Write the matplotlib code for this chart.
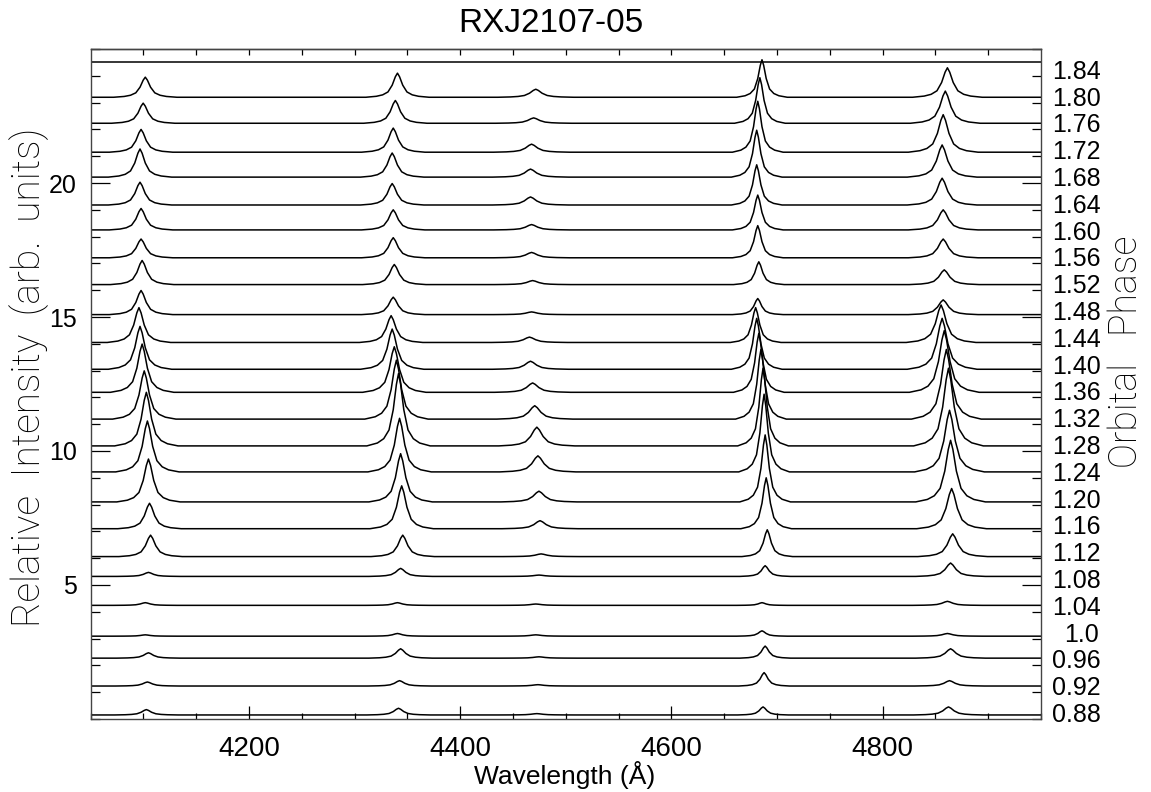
import numpy as np
import matplotlib.pyplot as plt
from matplotlib.ticker import MultipleLocator

plt.rcParams['font.family'] = ['Liberation Sans', 'DejaVu Sans']

# orbital phase labels, bottom spectrum first
phases = ["0.88", "0.92", "0.96", "1.0", "1.04", "1.08", "1.12", "1.16", "1.20",
          "1.24", "1.28", "1.32", "1.36", "1.40", "1.44", "1.48", "1.52", "1.56",
          "1.60", "1.64", "1.68", "1.72", "1.76", "1.80", "1.84"]

# continuum level of each spectrum (offset included)
baseline = [0.15, 1.23, 2.27, 3.09, 4.24, 5.32, 6.06, 7.10, 8.10, 9.22, 10.19,
            11.19, 12.19, 13.05, 14.05, 15.09, 16.21, 17.21, 18.25, 19.18, 20.22,
            21.15, 22.23, 23.20, 24.50]

# line shift of each spectrum (Angstrom)
shift = [1, 2, 3, 0, 0, 3, 5, 4, 3, 2, 1, -1, -3, -5, -6, -4, -3, -4, -4, -5,
         -5, -4, -2, 0, 0]

# rest wavelengths and relative widths of the emission lines
line_names = ["Hdelta", "Hgamma", "HeI4471", "HeII4686", "Hbeta"]
line_rest = [4101.7, 4340.5, 4471.5, 4685.7, 4861.3]
line_width = [1.0, 1.0, 1.2, 0.8, 1.1]

# peak heights above continuum, one row per line, one column per spectrum
peak_hd = [0.2, 0.15, 0.2, 0.05, 0.1, 0.15, 0.8, 0.95, 1.6, 1.9, 2.0, 1.8, 1.8,
           1.6, 1.3, 0.9, 0.9, 0.7, 0.8, 0.85, 1.05, 0.85, 0.75, 0.75, 0.0]
peak_hg = [0.25, 0.2, 0.35, 0.1, 0.1, 0.3, 0.8, 1.6, 1.8, 2.0, 2.7, 2.2, 1.7,
           1.5, 1.0, 0.65, 0.75, 0.75, 0.75, 0.8, 0.9, 0.9, 0.85, 0.9, 0.0]
peak_hei = [0.05, 0.05, 0.05, 0.05, 0.05, 0.05, 0.1, 0.3, 0.4, 0.6, 0.7, 0.5,
            0.35, 0.3, 0.2, 0.1, 0.15, 0.2, 0.2, 0.3, 0.3, 0.3, 0.2, 0.3, 0.0]
peak_heii = [0.3, 0.5, 0.45, 0.2, 0.1, 0.4, 1.0, 1.9, 2.5, 2.9, 2.9, 2.6, 2.2,
             1.9, 1.3, 0.6, 0.85, 1.2, 1.3, 1.5, 1.75, 1.9, 1.7, 1.4, 0.0]
peak_hb = [0.3, 0.2, 0.35, 0.1, 0.15, 0.5, 0.85, 1.5, 2.3, 2.3, 2.9, 2.6, 2.3,
           1.9, 1.4, 0.55, 0.55, 0.7, 0.75, 1.0, 1.2, 1.4, 1.2, 1.1, 0.0]
peaks = [peak_hd, peak_hg, peak_hei, peak_heii, peak_hb]

# shape of a single emission line (Angstrom, fraction of peak)
profile_dx = [-30, -20, -14, -9, -5, -2, 0, 2, 5, 9, 14, 20, 30]
profile_y = [0, 0.04, 0.1, 0.22, 0.5, 0.85, 1.0, 0.85, 0.5, 0.22, 0.1, 0.04, 0]

wl_min, wl_max = 4050, 4950


def build_spectrum(i):
    wl = [wl_min]
    fl = [baseline[i]]
    for k in range(len(line_rest)):
        c = line_rest[k] + shift[i]
        for dx, py in zip(profile_dx, profile_y):
            wl.append(c + dx * line_width[k])
            fl.append(baseline[i] + peaks[k][i] * py)
    wl.append(wl_max)
    fl.append(baseline[i])
    return np.array(wl), np.array(fl)


def main():
    fig = plt.figure(figsize=(11.51, 7.92), dpi=100)
    ax = fig.add_axes([0.0788, 0.0922, 0.8257, 0.8459])

    for i in range(len(phases)):
        wl, fl = build_spectrum(i)
        ax.plot(wl, fl, color='black', lw=1.1)
        xoff = 1.0245 if phases[i] == "1.0" else 1.0116
        ax.text(xoff, 0.15 + i, phases[i], transform=ax.get_yaxis_transform(),
                ha='left', va='center', fontsize=18)

    ax.set_xlim(wl_min, wl_max)
    ax.set_ylim(0, 25)

    ax.xaxis.set_major_locator(MultipleLocator(200))
    ax.xaxis.set_minor_locator(MultipleLocator(50))
    ax.yaxis.set_minor_locator(MultipleLocator(1))
    ax.set_yticks([5, 10, 15, 20])

    ax.tick_params(axis='x', which='both', direction='in', top=False, labelsize=20, pad=12)
    ax.tick_params(axis='x', which='major', length=9.5, width=0.9)
    ax.tick_params(axis='x', which='minor', length=4, width=0.9)
    ax.tick_params(axis='y', which='both', direction='in', right=True, labelsize=18, pad=10)
    ax.tick_params(axis='y', which='major', length=14, width=0.9)
    ax.tick_params(axis='y', which='minor', length=6.5, width=0.9)

    top = ax.secondary_xaxis('top')
    top.set_xticks(np.arange(4100, 4950, 50))
    top.tick_params(direction='in', length=4.5, width=0.9, labeltop=False)

    for s in list(ax.spines.values()) + list(top.spines.values()):
        s.set_linewidth(1.0)
        s.set_color('#444444')

    fig.text(551 / 1151, 1 - 24 / 792, "RXJ2107-05", ha='center', va='center', fontsize=24)
    fig.text(565 / 1151, 1 - 775 / 792, "Wavelength (Å)", ha='center', va='center', fontsize=19)
    fig.text(29 / 1151, 1 - 377 / 792, "Relative  Intensity  (arb.  units)", rotation=90,
             ha='center', va='center', fontsize=28, fontweight='light', color='black',
             family=['Roboto', 'DejaVu Sans'])
    fig.text(1126 / 1151, 1 - 352 / 792, "Orbital   Phase", rotation=90,
             ha='center', va='center', fontsize=27, fontweight='light', color='black',
             family=['Roboto', 'DejaVu Sans'])

    plt.savefig("out.png", dpi=100)


if __name__ == '__main__':
    main()
